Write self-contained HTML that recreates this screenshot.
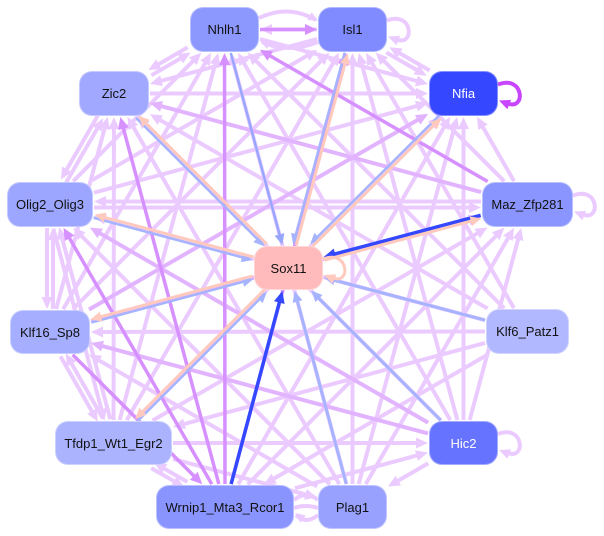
<!DOCTYPE html>
<html><head><meta charset="utf-8">
<style>
html,body{margin:0;padding:0}
body{width:604px;height:536px;background:#fff;position:relative;overflow:hidden;font-family:"Liberation Sans",Arial,sans-serif}
svg{position:absolute;left:0;top:0}
.n{position:absolute;border-radius:13px;display:flex;align-items:center;justify-content:center;font-size:13px;color:#111;box-sizing:border-box;border:1px solid rgba(255,255,255,.4)}
</style></head>
<body>
<svg id="g" width="604" height="536" viewBox="0 0 604 536"></svg>
<div class="n" style="left:190px;top:7px;width:69px;height:45px;background:#8d98ff">Nhlh1</div>
<div class="n" style="left:318px;top:7px;width:69px;height:45px;background:#7f8bff">Isl1</div>
<div class="n" style="left:79px;top:71px;width:70px;height:45px;background:#a0a8ff">Zic2</div>
<div class="n" style="left:429px;top:71px;width:69px;height:45px;background:#3547ff;color:#fff">Nfia</div>
<div class="n" style="left:7px;top:182px;width:86px;height:45px;background:#9da6ff">Olig2_Olig3</div>
<div class="n" style="left:482px;top:182px;width:91px;height:45px;background:#8a95ff">Maz_Zfp281</div>
<div class="n" style="left:254px;top:246px;width:69px;height:44px;background:#ffbbbb">Sox11</div>
<div class="n" style="left:10px;top:310px;width:80px;height:44px;background:#a6aeff">Klf16_Sp8</div>
<div class="n" style="left:486px;top:309px;width:83px;height:45px;background:#b1b8ff">Klf6_Patz1</div>
<div class="n" style="left:55px;top:421px;width:117px;height:44px;background:#abb3ff">Tfdp1_Wt1_Egr2</div>
<div class="n" style="left:429px;top:421px;width:69px;height:44px;background:#6673ff;color:#fff">Hic2</div>
<div class="n" style="left:156px;top:485px;width:138px;height:44px;background:#8a94ff">Wrnip1_Mta3_Rcor1</div>
<div class="n" style="left:318px;top:485px;width:69px;height:44px;background:#99a1ff">Plag1</div>
<script>
const R={N:[190,7,69,45],I:[318,7,69,45],Z:[79,71,70,45],F:[429,71,69,45],O:[7,182,86,45],M:[482,182,91,45],S:[254,246,69,44],K:[10,310,80,44],P:[486,309,83,45],T:[55,421,117,44],H:[429,421,69,44],W:[156,485,138,44],L:[318,485,69,44]};
const Lc='#ebcbff',Mc='#e2b4ff',Dc='#d690ff',Bl='#a6b3ff',DB='#3348ff',Pc='#ffc9bd';
function c(k){const r=R[k];return [r[0]+r[2]/2,r[1]+r[3]/2];}
function bd(k,dx,dy){const r=R[k];const hw=r[2]/2,hh=r[3]/2;const tx=Math.abs(dx)>1e-6?hw/Math.abs(dx):1e9;const ty=Math.abs(dy)>1e-6?hh/Math.abs(dy):1e9;return Math.min(tx,ty);}
let out='';
function arrow(tx,ty,dx,dy,col,L,W){const nx=-dy,ny=dx;const bx=tx-dx*L,by=ty-dy*L;out+=`<polygon points="${tx},${ty} ${bx+nx*W},${by+ny*W} ${bx-nx*W},${by-ny*W}" fill="${col}"/>`;}
function E(a,b,col,w,off){
 const A=c(a),B=c(b);let dx=B[0]-A[0],dy=B[1]-A[1];const len=Math.hypot(dx,dy);dx/=len;dy/=len;const nx=-dy,ny=dx;
 const ax=A[0]+nx*off,ay=A[1]+ny*off,bx=B[0]+nx*off,by=B[1]+ny*off;
 const ta=bd(a,dx,dy)+1,tb=bd(b,dx,dy)+1;
 const sx=ax+dx*ta,sy=ay+dy*ta,ex=bx-dx*tb,ey=by-dy*tb;
 const L=w>3?12:11,W=w>3?5.5:5;
 out+=`<line x1="${sx}" y1="${sy}" x2="${ex-dx*L*0.7}" y2="${ey-dy*L*0.7}" stroke="${col}" stroke-width="${w}"/>`;
 arrow(ex,ey,dx,dy,col,L,W);
}
function loop(k,col,w){const r=R[k];const x1=r[0]+r[2],cy=r[1]+r[3]/2;const y1=cy-9,y2=cy+7;
 out+=`<path d="M${x1},${y1} C${x1+26},${y1-10} ${x1+28},${y2+10} ${x1+10},${y2+3}" fill="none" stroke="${col}" stroke-width="${w}"/>`;
 arrow(x1+1,y2,-0.93,-0.37,col,11,5);}
const S={l:[Lc,4],m:[Mc,4],d:[Dc,3.5]};
const ed=[
['I','N','l',0],['N','Z','l',1],['N','F','l',0],['P','N','l',0],['H','N','l',0],['L','N','l',0],['T','N','l',0],['K','N','l',0],['O','N','l',0],
['I','Z','l',0],['I','F','l',1],['M','I','l',0],['P','I','l',0],['H','I','l',0],['L','I','l',0],['T','I','l',0],['K','I','l',0],['O','I','l',0],
['Z','F','l',0],['Z','O','l',1],['K','Z','l',0],['T','Z','l',0],['L','Z','l',0],['H','Z','l',0],['P','Z','l',0],
['M','F','l',0],['O','F','l',0],['T','F','l',0],['W','F','l',0],['L','F','l',0],['H','F','l',0],
['O','M','l',1],['T','M','l',0],['W','M','l',0],['L','M','l',0],['H','M','l',0],
['O','K','l',1],['O','T','l',1],['L','O','l',0],['P','O','l',0],['K','T','l',1],['L','K','l',0],['P','K','l',0],
['T','W','l',1],['T','L','l',0],['T','H','l',0],['P','W','l',0],['P','T','l',0],['W','H','l',0],['H','L','l',0],
['K','F','m',0],['K','M','m',0],['H','O','m',0],['H','K','m',0],['M','Z','m',0],
['N','I','d',0],['M','N','d',0],['W','N','d',0],['W','I','d',0],['W','Z','d',0],['W','O','d',0],['K','W','d',0]
];
for(const o of ['l','m','d']){for(const e of ed){if(e[2]!==o)continue;const s=S[o];if(e[3]){E(e[0],e[1],s[0],s[1],3);E(e[1],e[0],s[0],s[1],3);}else E(e[0],e[1],s[0],s[1],0);}}
out+=`<path d="M259,18 Q288,4 316,20" fill="none" stroke="${Lc}" stroke-width="4"/>`;arrow(318,21,0.85,0.5,Lc,10,4.5);
out+=`<path d="M318,42 Q288,54 262,42" fill="none" stroke="${Lc}" stroke-width="4"/>`;arrow(260,41,-0.9,-0.4,Lc,10,4.5);
out+=`<path d="M294,500 Q306,490 318,500" fill="none" stroke="${Lc}" stroke-width="4"/>`;
out+=`<path d="M318,515 Q306,525 296,515" fill="none" stroke="${Lc}" stroke-width="4"/>`;arrow(295,513,-0.8,-0.6,Lc,10,4.5);
out+=`<path d="M294,508 Q306,504 318,508" fill="none" stroke="${Lc}" stroke-width="4"/>`;
loop('I',Lc,4);loop('F','#c846ff',4);loop('M',Lc,4);loop('H',Lc,4);
E('N','S','#98a6ff',2.5,0);
for(const k of ['I','F','Z','O','K','T']){E(k,'S',Bl,2.5,1.6);E('S',k,Pc,3,1.6);}
E('M','S',DB,3.5,1.6);E('S','M',Pc,3,1.6);
E('P','S',Bl,3,0);E('H','S',Bl,3,0);E('L','S',Bl,3,0);E('W','S',DB,3.5,0);
loop('S',Pc,3);
document.getElementById('g').innerHTML=out;
</script>
</body></html>
